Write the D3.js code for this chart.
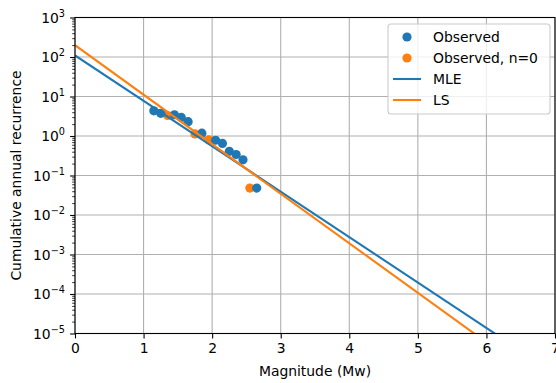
<!DOCTYPE html>
<html>
<head>
<meta charset="utf-8">
<script src="https://cdn.jsdelivr.net/npm/d3@7"></script>
<style>
  body { margin: 0; background: #fff; }
  text { font-family: "DejaVu Sans", sans-serif; fill: #000; }
</style>
</head>
<body>
<svg id="chart" width="556" height="383"></svg>
<script>
// Observed cumulative annual recurrence (bins with events)
const obsMag = [1.15, 1.25, 1.45, 1.55, 1.65, 1.85, 2.05, 2.15, 2.25, 2.35, 2.45, 2.65];
const obsRate = [4.35, 3.75, 3.45, 2.95, 2.3, 1.18, 0.78, 0.65, 0.41, 0.34, 0.25, 0.048];
// Observed bins with n=0
const zeroMag = [1.35, 1.75, 1.95, 2.55];
const zeroRate = [3.3, 1.13, 0.8, 0.048];
// Gutenberg-Richter fits: log10 N = a - b*M
const fitNames = ["MLE", "LS"];
const fitA = [2.04, 2.30];
const fitB = [1.150, 1.254];
const xTicks = [0, 1, 2, 3, 4, 5, 6, 7];
const yExps = [-5, -4, -3, -2, -1, 0, 1, 2, 3];

const blue = "#1f77b4", orange = "#ff7f0e";
const svg = d3.select("#chart");
const L = 75, R = 555, T = 17.5, B = 333.5;
const x = d3.scaleLinear().domain([0, 7]).range([L, R]);
const y = d3.scaleLog().domain([1e-5, 1e3]).range([B, T]);

svg.append("defs").append("clipPath").attr("id", "clip")
  .append("rect").attr("x", L).attr("y", T).attr("width", R - L).attr("height", B - T);

// grid
const grid = svg.append("g").attr("stroke", "#b0b0b0").attr("stroke-width", 1.1);
xTicks.forEach(t => grid.append("line").attr("x1", x(t)).attr("x2", x(t)).attr("y1", T).attr("y2", B));
yExps.forEach(e => grid.append("line").attr("x1", L).attr("x2", R).attr("y1", y(Math.pow(10, e))).attr("y2", y(Math.pow(10, e))));

const plot = svg.append("g").attr("clip-path", "url(#clip)");
// scatter
plot.selectAll("circle.z").data(zeroMag).enter().append("circle")
  .attr("cx", (d) => x(d)).attr("cy", (d, i) => y(zeroRate[i])).attr("r", 4.6).attr("fill", orange);
plot.selectAll("circle.o").data(obsMag).enter().append("circle")
  .attr("cx", (d) => x(d)).attr("cy", (d, i) => y(obsRate[i])).attr("r", 4.6).attr("fill", blue);
// fit lines
const fitColors = [blue, orange];
const mGrid = [0, 7];
fitNames.forEach((n, k) => {
  const line = d3.line().x(m => x(m)).y(m => y(Math.pow(10, fitA[k] - fitB[k] * m)));
  plot.append("path").attr("d", line(mGrid)).attr("fill", "none")
    .attr("stroke", fitColors[k]).attr("stroke-width", 2.08);
});

// spines
svg.append("rect").attr("x", L).attr("y", T).attr("width", R - L).attr("height", B - T)
  .attr("fill", "none").attr("stroke", "#000").attr("stroke-width", 1.1);

// x axis
const xa = svg.append("g").attr("transform", `translate(0,${B})`)
  .call(d3.axisBottom(x).tickValues(xTicks).tickFormat(d3.format("d")).tickSize(4.9).tickPadding(4.9));
xa.select(".domain").remove();
xa.selectAll("line").attr("stroke", "#000").attr("stroke-width", 1.1);
xa.selectAll("text").attr("font-size", "13.9px").attr("font-family", "DejaVu Sans").attr("fill", "#000");

// y axis major
const ya = svg.append("g").attr("transform", `translate(${L},0)`)
  .call(d3.axisLeft(y).tickValues(yExps.map(e => Math.pow(10, e))).tickFormat("").tickSize(4.9));
ya.select(".domain").remove();
ya.selectAll("line").attr("stroke", "#000").attr("stroke-width", 1.1);
// minor ticks
const minors = [];
yExps.slice(0, -1).forEach(e => { for (let k = 2; k <= 9; k++) minors.push(k * Math.pow(10, e)); });
const ym = svg.append("g").attr("transform", `translate(${L},0)`)
  .call(d3.axisLeft(y).tickValues(minors).tickFormat("").tickSize(2.8));
ym.select(".domain").remove();
ym.selectAll("line").attr("stroke", "#000").attr("stroke-width", 0.8);
// y tick labels with superscripts
yExps.forEach(e => {
  const t = svg.append("text").attr("x", 65).attr("y", y(Math.pow(10, e)) + 5)
    .attr("text-anchor", "end").attr("font-size", "13.9px");
  t.append("tspan").text("10");
  t.append("tspan").attr("dy", -6).attr("font-size", "9.7px").text(e < 0 ? "\u2212" + (-e) : String(e));
});

// axis labels
svg.append("text").attr("x", (L + R) / 2).attr("y", 376).attr("text-anchor", "middle")
  .attr("font-size", "13.9px").text("Magnitude (Mw)");
svg.append("text").attr("transform", `translate(21,${(T + B) / 2}) rotate(-90)`)
  .attr("text-anchor", "middle").attr("font-size", "13.9px").text("Cumulative annual recurrence");

// legend
const lg = svg.append("g");
lg.append("rect").attr("x", 388).attr("y", 24).attr("width", 162).attr("height", 90).attr("rx", 3)
  .attr("fill", "#fff").attr("fill-opacity", 0.8).attr("stroke", "#cccccc").attr("stroke-width", 1.1);
const legItems = [
  { label: "Observed", type: "dot", color: blue },
  { label: "Observed, n=0", type: "dot", color: orange },
  { label: fitNames[0], type: "line", color: blue },
  { label: fitNames[1], type: "line", color: orange }
];
legItems.forEach((it, i) => {
  const cy = 37 + i * 21;
  if (it.type === "dot") lg.append("circle").attr("cx", 407).attr("cy", cy).attr("r", 4.6).attr("fill", it.color);
  else lg.append("line").attr("x1", 393).attr("x2", 421).attr("y1", cy).attr("y2", cy)
    .attr("stroke", it.color).attr("stroke-width", 2.08);
  lg.append("text").attr("x", 433).attr("y", cy + 5).attr("font-size", "13.9px").text(it.label);
});
</script>
</body>
</html>
